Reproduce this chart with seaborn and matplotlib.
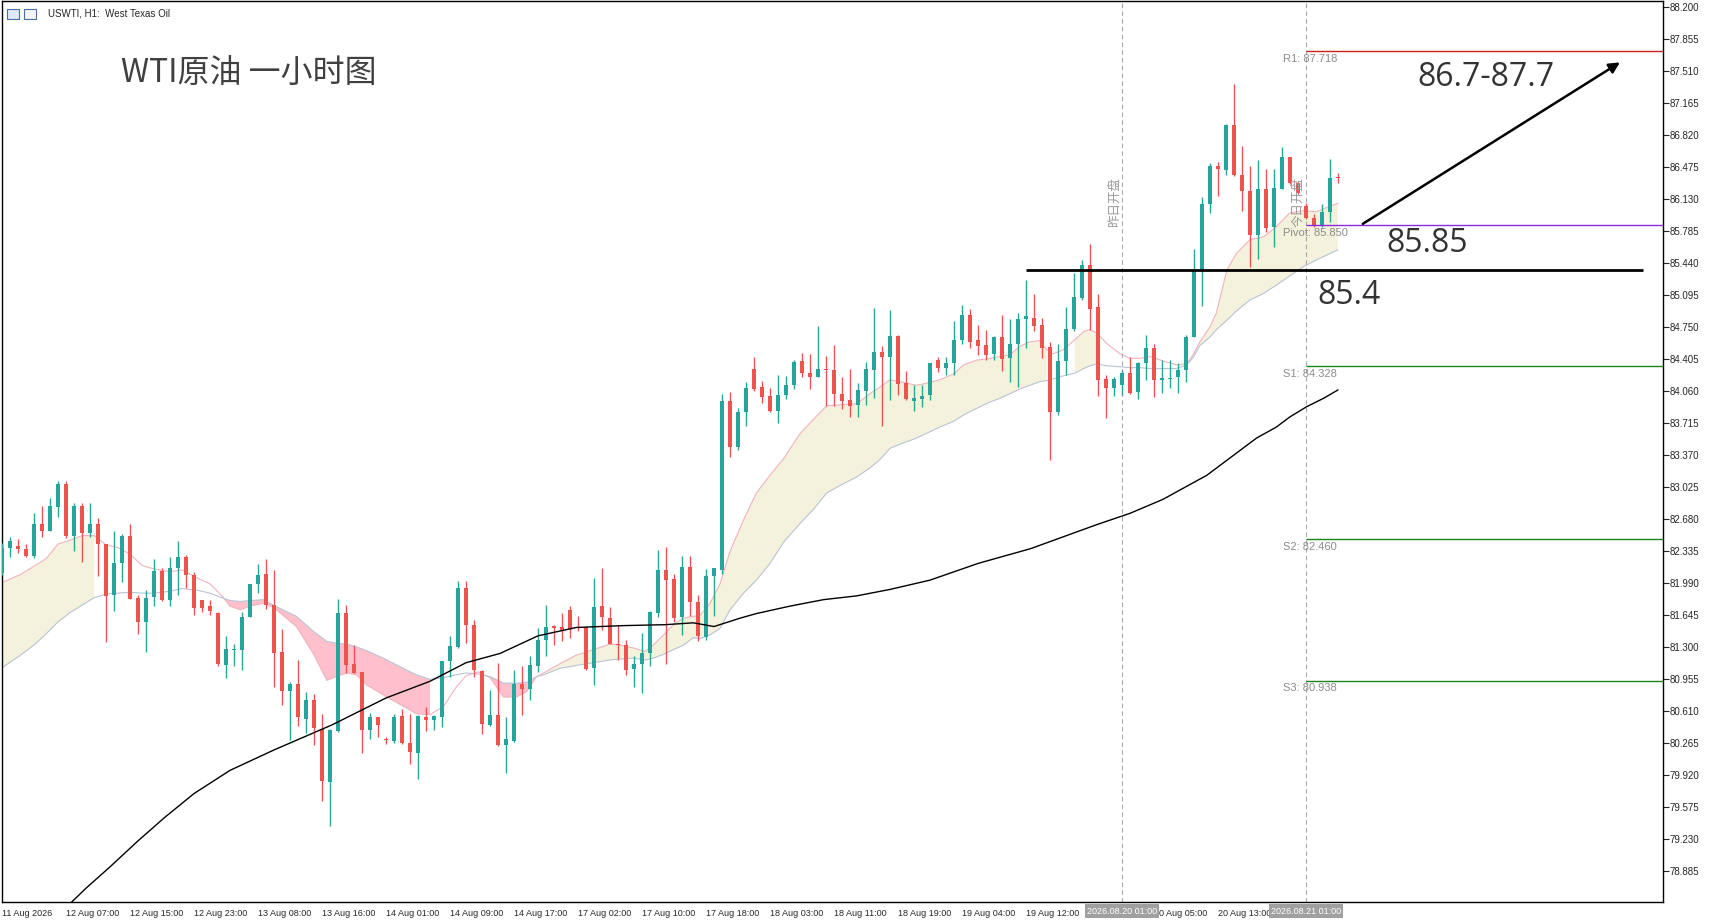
import numpy as np
import pandas as pd
import seaborn as sns
import matplotlib.pyplot as plt
from matplotlib.patches import Rectangle

sns.set_style("white")
plt.rcParams['font.family'] = ['Liberation Sans', 'Noto Sans CJK SC', 'DejaVu Sans']

# ---- hourly candles (USWTI H1) ----
opens = [82.10, 82.37, 82.39, 82.36, 82.28, 82.63, 82.55, 82.81, 83.06, 82.50,
         82.82, 82.53, 82.62, 82.41, 81.86, 82.21, 82.50, 81.83, 81.57, 81.84,
         82.12, 81.81, 82.15, 82.27, 82.08, 81.81, 81.74, 81.67, 81.11, 81.27,
         81.27, 81.62, 81.98, 82.09, 81.75, 81.25, 80.83, 80.90, 80.52, 80.73,
         80.42, 79.84, 80.39, 81.67, 81.12, 81.03, 80.41, 80.54, 80.30, 80.29,
         80.56, 80.27, 80.16, 80.54, 80.51, 80.55, 81.15, 81.30, 81.93, 81.54,
         81.04, 80.46, 80.57, 80.24, 80.29, 80.90, 80.85, 81.10, 81.38, 81.53,
         81.51, 81.70, 81.52, 81.51, 81.07, 81.74, 81.61, 81.33, 81.32, 81.06,
         81.12, 81.23, 81.67, 82.13, 82.03, 81.62, 82.16, 81.78, 81.41, 82.06,
         82.13, 83.95, 83.46, 83.83, 84.30, 84.10, 84.00, 83.84, 84.01, 84.12,
         84.38, 84.25, 84.21, 84.30, 84.28, 84.03, 83.96, 83.91, 84.06, 84.29,
         84.48, 84.43, 84.65, 84.14, 83.95, 83.97, 84.01, 84.39, 84.31, 84.36,
         84.61, 84.88, 84.61, 84.55, 84.46, 84.64, 84.41, 84.57, 84.83, 84.85,
         84.77, 84.53, 83.83, 84.38, 84.73, 85.06, 85.42, 84.96, 84.19, 84.09,
         84.12, 84.25, 84.05, 84.36, 84.52, 84.18, 84.19, 84.21, 84.29, 84.64,
         85.35, 86.07, 86.48, 86.44, 86.93, 86.39, 86.21, 85.74, 86.24, 85.83,
         86.24, 86.58, 86.30, 86.05, 85.92, 85.84, 85.99, 86.36]
highs = [82.42, 82.48, 82.46, 82.41, 82.74, 82.82, 82.91, 83.09, 83.09, 82.85,
         82.85, 82.85, 82.69, 82.41, 82.55, 82.52, 82.62, 81.86, 81.91, 82.25,
         82.15, 82.27, 82.44, 82.29, 82.11, 81.81, 81.81, 81.68, 81.42, 81.33,
         81.68, 81.98, 82.19, 82.25, 82.13, 81.49, 80.92, 81.16, 80.81, 80.79,
         80.58, 80.42, 81.82, 81.75, 81.32, 81.03, 80.59, 80.55, 80.33, 80.58,
         80.63, 80.58, 80.57, 80.65, 80.57, 81.15, 81.42, 82.01, 82.01, 81.59,
         81.05, 80.84, 81.13, 80.55, 81.05, 81.10, 81.20, 81.50, 81.75, 81.54,
         81.67, 81.74, 81.63, 81.52, 82.04, 82.15, 81.73, 81.54, 81.38, 81.20,
         81.45, 81.69, 82.35, 82.38, 82.09, 82.28, 82.28, 81.86, 82.14, 82.15,
         84.03, 84.05, 83.87, 84.16, 84.43, 84.17, 84.09, 84.23, 84.22, 84.39,
         84.47, 84.46, 84.76, 84.44, 84.55, 84.21, 84.30, 84.14, 84.37, 84.95,
         84.54, 84.93, 84.66, 84.27, 84.12, 84.12, 84.36, 84.42, 84.42, 84.81,
         84.99, 84.94, 84.77, 84.72, 84.65, 84.88, 84.83, 84.90, 85.26, 85.10,
         84.85, 84.59, 84.57, 84.96, 85.33, 85.47, 85.64, 85.10, 84.23, 84.21,
         84.28, 84.42, 84.37, 84.66, 84.57, 84.39, 84.39, 84.36, 84.66, 85.59,
         86.15, 86.52, 86.53, 86.94, 87.37, 86.70, 86.48, 86.55, 86.45, 86.45,
         86.69, 86.58, 86.31, 86.08, 85.97, 86.07, 86.56, 86.41]
lows = [82.08, 82.27, 82.31, 82.27, 82.26, 82.49, 82.55, 82.70, 82.47, 82.33,
        82.22, 82.48, 82.06, 81.35, 81.69, 82.00, 81.82, 81.44, 81.25, 81.74,
        81.79, 81.74, 81.86, 81.93, 81.64, 81.68, 81.64, 81.10, 80.96, 81.10,
        81.05, 81.62, 81.88, 81.71, 80.87, 80.67, 80.30, 80.45, 80.37, 80.24,
        79.64, 79.37, 80.38, 81.02, 81.02, 80.16, 80.31, 80.33, 80.25, 80.27,
        80.25, 80.04, 79.88, 80.39, 80.41, 80.44, 80.98, 81.29, 81.34, 80.98,
        80.36, 80.45, 80.23, 79.94, 80.28, 80.57, 80.73, 81.03, 81.20, 81.32,
        81.36, 81.40, 81.47, 81.05, 80.89, 81.48, 81.33, 81.16, 81.00, 80.87,
        80.80, 81.10, 81.62, 81.12, 81.57, 81.43, 81.63, 81.36, 81.38, 81.63,
        82.09, 83.35, 83.42, 83.68, 84.06, 83.93, 83.83, 83.71, 83.97, 84.08,
        84.21, 84.08, 84.21, 83.90, 83.90, 83.86, 83.78, 83.78, 83.91, 83.98,
        83.68, 83.96, 84.02, 83.96, 83.84, 83.89, 83.96, 84.26, 84.23, 84.23,
        84.57, 84.52, 84.45, 84.39, 84.39, 84.27, 84.15, 84.10, 84.52, 84.71,
        84.41, 83.31, 83.80, 84.23, 84.70, 85.04, 84.72, 84.00, 83.77, 84.00,
        84.02, 84.03, 83.97, 84.18, 83.99, 84.04, 84.09, 84.04, 84.16, 84.64,
        84.97, 85.98, 86.16, 86.39, 86.38, 86.00, 85.40, 85.48, 85.77, 85.61,
        86.23, 86.29, 86.18, 85.91, 85.83, 85.83, 85.88, 86.30]
closes = [82.37, 82.44, 82.36, 82.28, 82.62, 82.55, 82.82, 83.06, 82.50, 82.82,
          82.53, 82.62, 82.41, 81.85, 82.21, 82.50, 81.82, 81.57, 81.83, 82.12,
          81.81, 82.15, 82.27, 82.08, 81.72, 81.72, 81.69, 81.12, 81.28, 81.28,
          81.62, 81.98, 82.08, 81.75, 81.24, 80.83, 80.90, 80.54, 80.73, 80.43,
          79.85, 80.40, 81.67, 81.11, 81.02, 80.41, 80.54, 80.46, 80.295, 80.55,
          80.27, 80.17, 80.56, 80.51, 80.56, 81.15, 81.31, 81.93, 81.54, 81.05,
          80.47, 80.57, 80.24, 80.31, 80.90, 80.85, 81.11, 81.38, 81.52, 81.50,
          81.48, 81.49, 81.50, 81.06, 81.73, 81.62, 81.33, 81.32, 81.05, 81.12,
          81.24, 81.68, 82.13, 82.02, 81.61, 82.16, 81.78, 81.42, 82.07, 82.15,
          83.95, 83.46, 83.83, 84.09, 84.08, 83.99, 83.84, 84.02, 84.12, 84.37,
          84.25, 84.21, 84.30, 84.28, 84.03, 83.95, 83.90, 84.07, 84.30, 84.48,
          84.43, 84.65, 84.13, 83.97, 83.98, 84.00, 84.36, 84.31, 84.36, 84.61,
          84.88, 84.59, 84.54, 84.45, 84.64, 84.40, 84.57, 84.83, 84.87, 84.76,
          84.52, 83.83, 84.38, 84.73, 85.07, 85.42, 84.94, 84.18, 84.09, 84.19,
          84.25, 84.04, 84.36, 84.52, 84.18, 84.20, 84.20, 84.29, 84.64, 85.35,
          86.07, 86.48, 86.45, 86.93, 86.39, 86.21, 85.74, 86.24, 85.82, 86.25,
          86.58, 86.30, 86.19, 85.92, 85.84, 85.99, 86.35, 86.35]

# ---- long moving average (black), sampled along the bars ----
ma_long_bar = [7.5, 10.5, 13.5, 17, 20.3, 24, 28.5, 34, 41.25, 48, 53.5, 58,
               62.25, 67, 71.8, 77.7, 82.9, 86.4, 89, 92.25, 94.3, 98.5, 102.7,
               106.8, 111, 116, 122, 128.6, 136.9, 141, 145.1, 150.6, 156.8,
               159.3, 161, 163.1, 165.2, 167]
ma_long = [78.45, 78.70, 78.93, 79.21, 79.46, 79.72, 79.97, 80.19, 80.46, 80.75,
           80.93, 81.13, 81.23, 81.42, 81.51, 81.53, 81.54, 81.56, 81.52, 81.61,
           81.66, 81.74, 81.81, 81.85, 81.92, 82.02, 82.20, 82.36, 82.62, 82.74,
           82.89, 83.15, 83.55, 83.67, 83.78, 83.89, 83.98, 84.07]

# ---- fast / slow averages forming the cloud ----
cloud_bar = [-0.1, 2.3, 4, 5.5, 7, 8.5, 10, 11.5, 13, 14.5, 16, 17.5, 19, 21,
             22.5, 24.5, 26, 27.5, 28.5, 29.8, 31, 32.7, 33.9, 36.8, 38.9, 40.6,
             41.8, 43.1, 44.3, 45.6, 48.1, 50.6, 51.8, 53.5, 55.2, 56.8, 58,
             59.5, 61, 62.7, 64.3, 65.6, 66.8, 67.7, 69.75, 71.75, 73.9, 76,
             77.25, 78.9, 80.4, 81.4, 82.7, 83.9, 85.2, 86.4, 87.25, 88.5, 89.75,
             91, 92.7, 94.3, 96, 97.7, 99.75, 101.4, 103.1, 104.75, 106.8, 108.5,
             109.75, 111, 112.7, 114.3, 116, 117.25, 118.9, 120.2, 121.8, 123.5,
             124.75, 126, 127.25, 128.5, 129.75, 130.6, 131.4, 132.6, 134.1,
             135.2, 136, 136.9, 138.1, 139.75, 141, 142.25, 143.5, 145.2, 146.8,
             148.1, 148.9, 149.75, 151, 151.8, 153.1, 154.3, 156, 157.7, 159.3,
             161, 162.7, 164.3, 166, 167]
ma_fast = [81.99, 82.08, 82.17, 82.25, 82.41, 82.45, 82.50, 82.50, 82.40, 82.37,
           82.30, 82.18, 82.14, 82.11, 82.13, 82.04, 81.98, 81.85, 81.74, 81.70,
           81.74, 81.77, 81.73, 81.52, 81.23, 80.94, 80.98, 81.02, 81.00, 80.89,
           80.76, 80.64, 80.58, 80.57, 80.66, 80.87, 80.99, 81.03, 80.97, 80.76,
           80.76, 80.82, 80.98, 81.02, 81.12, 81.21, 81.27, 81.33, 81.32, 81.29,
           81.25, 81.32, 81.43, 81.54, 81.61, 81.63, 81.64, 81.77, 81.98, 82.33,
           82.67, 82.96, 83.15, 83.33, 83.60, 83.75, 83.90, 83.91, 83.92, 84.03,
           84.10, 84.18, 84.15, 84.12, 84.15, 84.18, 84.24, 84.34, 84.39, 84.41,
           84.43, 84.45, 84.54, 84.59, 84.60, 84.50, 84.46, 84.50, 84.61, 84.70,
           84.72, 84.68, 84.57, 84.46, 84.41, 84.41, 84.43, 84.38, 84.34, 84.35,
           84.45, 84.59, 84.75, 84.90, 85.36, 85.54, 85.69, 85.72, 85.83, 85.98,
           86.00, 85.99, 86.05, 86.08]
ma_slow = [81.07, 81.21, 81.32, 81.44, 81.57, 81.67, 81.75, 81.83, 81.87, 81.88,
           81.89, 81.88, 81.88, 81.90, 81.93, 81.91, 81.88, 81.83, 81.80, 81.79,
           81.80, 81.81, 81.75, 81.63, 81.47, 81.36, 81.34, 81.33, 81.30, 81.26,
           81.16, 81.05, 81.00, 80.95, 80.97, 81.00, 81.02, 81.01, 80.98, 80.91,
           80.91, 80.92, 80.98, 81.00, 81.07, 81.10, 81.13, 81.16, 81.17, 81.18,
           81.16, 81.18, 81.22, 81.27, 81.32, 81.40, 81.39, 81.43, 81.50, 81.70,
           81.88, 82.02, 82.20, 82.43, 82.63, 82.78, 82.96, 83.04, 83.13, 83.23,
           83.32, 83.44, 83.50, 83.55, 83.62, 83.67, 83.73, 83.80, 83.87, 83.94,
           83.98, 84.03, 84.08, 84.12, 84.16, 84.17, 84.19, 84.22, 84.25, 84.30,
           84.33, 84.35, 84.33, 84.32, 84.31, 84.31, 84.30, 84.30, 84.30, 84.34,
           84.42, 84.55, 84.64, 84.72, 84.82, 84.92, 85.04, 85.11, 85.20, 85.30,
           85.40, 85.47, 85.54, 85.58]
cream_spans = [(-1, 12), (58.7, 61), (66.8, 114.3), (116, 130.6), (134.1, 137), (148.1, 168)]
pink_spans = [(27.4, 54.2), (61, 66.8)]

# ---- levels ----
pivot_names = ['R1', 'Pivot', 'S1', 'S2', 'S3']
pivot_values = [87.718, 85.850, 84.328, 82.460, 80.938]
pivot_colors = ['#d02020', '#8a2be2', '#1c861c', '#1c861c', '#1c861c']
support_line = 85.36

# ---- axis labels (labels hidden under the session boxes are left out) ----
date_labels = ['11 Aug 2026', '12 Aug 07:00', '12 Aug 15:00', '12 Aug 23:00',
               '13 Aug 08:00', '13 Aug 16:00', '14 Aug 01:00', '14 Aug 09:00',
               '14 Aug 17:00', '17 Aug 02:00', '17 Aug 10:00', '17 Aug 18:00',
               '18 Aug 03:00', '18 Aug 11:00', '18 Aug 19:00', '19 Aug 04:00',
               '19 Aug 12:00', '20 Aug 05:00', '20 Aug 13:00']
date_bars = [0, 8, 16, 24, 32, 40, 48, 56, 64, 72, 80, 88, 96, 104, 112, 120,
             128, 144, 152]
session_bars = [140, 163]
session_labels = ['2026.08.20 01:00', '2026.08.21 01:00']
session_names = ['昨日开盘', '今日开盘']
price_ticks = [88.200, 87.855, 87.510, 87.165, 86.820, 86.475, 86.130, 85.785,
               85.440, 85.095, 84.750, 84.405, 84.060, 83.715, 83.370, 83.025,
               82.680, 82.335, 81.990, 81.645, 81.300, 80.955, 80.610, 80.265,
               79.920, 79.575, 79.230, 78.885]

UP = '#26a69a'
DOWN = '#ef5350'

W, H = 1711, 923
fig = plt.figure(figsize=(W / 100, H / 100), dpi=100)
ax = fig.add_axes([2 / W, 21 / H, 1661 / W, 901 / H])

df = pd.DataFrame({'open': opens, 'high': highs, 'low': lows, 'close': closes})
df['bar'] = np.arange(len(df))
colors = np.where(df['close'] >= df['open'], UP, DOWN)

# cloud
cb = np.array(cloud_bar)
fast = np.array(ma_fast)
slow = np.array(ma_slow)
cream_mask = np.zeros(len(cb), bool)
for a, b in cream_spans:
    cream_mask |= (cb >= a) & (cb <= b)
pink_mask = np.zeros(len(cb), bool)
for a, b in pink_spans:
    pink_mask |= (cb >= a) & (cb <= b)
ax.fill_between(cb, fast, slow, where=cream_mask, color='#f4f2dc', lw=0, zorder=1)
ax.fill_between(cb, fast, slow, where=pink_mask, color='#ffc0cb', lw=0, zorder=1)
sns.lineplot(x=cb, y=fast, ax=ax, color='#f2b3bf', linewidth=0.8, estimator=None, zorder=2)
sns.lineplot(x=cb, y=slow, ax=ax, color='#b9c3d6', linewidth=0.8, estimator=None, zorder=2)
sns.lineplot(x=ma_long_bar, y=ma_long, ax=ax, color='black', linewidth=1.0,
             estimator=None, zorder=5)

# candles
ax.vlines(df['bar'], df['low'], df['high'], colors=colors, lw=1.0, zorder=3)
body = (df['close'] - df['open']).abs().clip(lower=0.012)
bottom = df[['open', 'close']].min(axis=1)
ax.bar(df['bar'], body, bottom=bottom, width=0.62, color=colors, lw=0, zorder=4)

xmax = 1661 / 8
ax.set_xlim(0, xmax)
ax.set_ylim(88.2 - 895.3 / 92.79, 88.2 + 5.7 / 92.79)

# session separators
for b, lab, name in zip(session_bars, session_labels, session_names):
    ax.axvline(b, color='#a8a8a8', lw=0.8, ls=(0, (4, 3)), zorder=2)
    ax.text(b - 0.15, 85.83, name, rotation=90, ha='right', va='bottom',
            fontsize=9, color='#9a9a9a', family=['Noto Sans CJK SC'], zorder=6)
    ax.text(b, -0.005, lab, transform=ax.get_xaxis_transform(), ha='center',
            va='top', fontsize=6.5, color='white', zorder=10, clip_on=False,
            bbox=dict(boxstyle='square,pad=0.25', fc='#a0a0a0', ec='none'))

# pivot levels
for name, val, col in zip(pivot_names, pivot_values, pivot_colors):
    ax.hlines(val, session_bars[1], xmax, color=col, lw=1.0, zorder=5)
    ax.text(160.1, val - 0.03, f'{name}: {val:.3f}', ha='left', va='top',
            fontsize=8, color='#8c8c8c', zorder=6)

ax.hlines(support_line, 128, 205.1, color='black', lw=2.0, zorder=6)
ax.annotate('', xy=(202.25, 87.60), xytext=(170.1, 85.86),
            arrowprops=dict(arrowstyle='-|>', color='black', lw=1.8,
                            mutation_scale=16, shrinkA=0, shrinkB=0), zorder=7)

# axes styling
ax.yaxis.tick_right()
ax.set_yticks(price_ticks, labels=[f'{t:.3f}' for t in price_ticks])
ax.set_xticks(date_bars, labels=date_labels, ha='left')
ax.tick_params(axis='y', direction='out', length=4, width=0.8, labelsize=7, pad=1)
ax.tick_params(axis='x', direction='out', length=4, width=0.8, labelsize=6.5, pad=1)
for s in ax.spines.values():
    s.set_visible(True)
    s.set_color('black')
    s.set_linewidth(1.0)
ax.grid(False)

# header and annotations
fig.add_artist(Rectangle((7 / W, 1 - 19 / H), 12 / W, 10 / H, transform=fig.transFigure,
                         fc='#dfe8f5', ec='#4a6fa5', lw=0.8))
fig.add_artist(Rectangle((24 / W, 1 - 19 / H), 12 / W, 10 / H, transform=fig.transFigure,
                         fc='#f5f5f5', ec='#4a6fa5', lw=0.8))
fig.text(48 / W, 1 - 14 / H, 'USWTI, H1:  West Texas Oil', fontsize=7, va='center')
fig.text(121 / W, 1 - 73 / H, 'WTI原油 一小时图', fontsize=23, color='#404040',
         va='center', family=['Noto Sans CJK SC'])
big = dict(fontsize=23, color='#333333', va='center', family=['Open Sans', 'DejaVu Sans'])
fig.text(1417 / W, 1 - 77 / H, '86.7-87.7', **big)
fig.text(1386 / W, 1 - 243 / H, '85.85', **big)
fig.text(1317 / W, 1 - 295 / H, '85.4', **big)

fig.savefig('out.png', dpi=100)
